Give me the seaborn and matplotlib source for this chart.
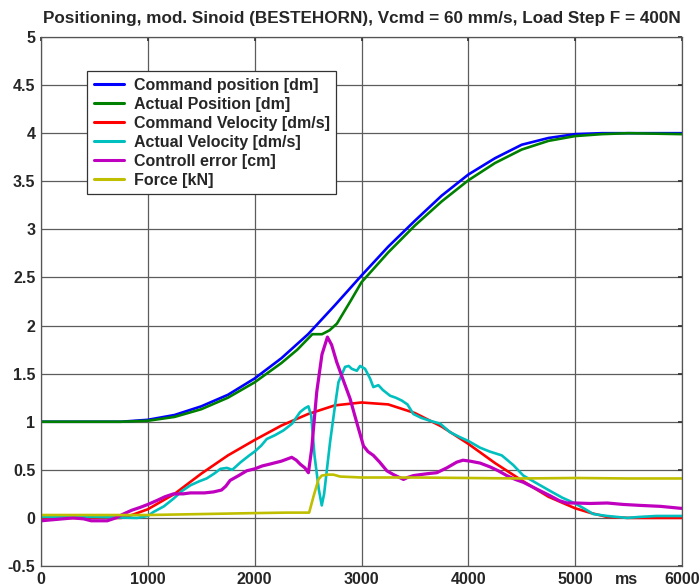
import numpy as np
import pandas as pd
import matplotlib
matplotlib.use("Agg")
import matplotlib.pyplot as plt
import seaborn as sns

# ---------------- data ----------------
series_names = [
    "Command position [dm]",
    "Actual Position [dm]",
    "Command Velocity [dm/s]",
    "Actual Velocity [dm/s]",
    "Controll error [cm]",
    "Force [kN]",
]
series_colors = ["#0000FF", "#008000", "#FF0000", "#00BFBF", "#BF00BF", "#BFBF00"]

cmd_pos_t = [0, 750, 1000, 1250, 1500, 1750, 2000, 2250, 2500, 2750, 3000, 3250, 3500,
             3750, 4000, 4250, 4500, 4750, 5000, 5250, 5500, 6000]
cmd_pos_v = [1.0, 1.0, 1.02, 1.07, 1.16, 1.28, 1.45, 1.66, 1.91, 2.21, 2.52, 2.82, 3.09,
             3.35, 3.57, 3.74, 3.88, 3.95, 3.99, 4.0, 4.0, 4.0]

act_pos_t = [0, 750, 1000, 1250, 1500, 1750, 2000, 2250, 2400, 2540, 2630, 2700, 2770,
             2900, 3000, 3250, 3500, 3750, 4000, 4250, 4500, 4750, 5000, 5250, 5500, 6000]
act_pos_v = [1.0, 1.0, 1.01, 1.05, 1.13, 1.25, 1.41, 1.61, 1.75, 1.91, 1.91, 1.95, 2.02,
             2.26, 2.45, 2.76, 3.04, 3.29, 3.51, 3.69, 3.83, 3.92, 3.97, 3.99, 4.0, 3.99]

cmd_vel_t = [0, 500, 750, 850, 1000, 1250, 1500, 1750, 2000, 2250, 2500, 2750, 3000,
             3250, 3500, 3750, 4000, 4250, 4500, 4750, 5000, 5150, 5300, 5500, 6000]
cmd_vel_v = [0.0, 0.0, 0.0, 0.03, 0.09, 0.25, 0.46, 0.65, 0.81, 0.96, 1.08, 1.17, 1.20,
             1.18, 1.09, 0.95, 0.77, 0.57, 0.39, 0.22, 0.10, 0.05, 0.01, 0.0, 0.0]

act_vel_t = [0, 500, 900, 1000, 1050, 1150, 1240, 1320, 1400, 1480, 1550, 1620, 1680,
             1740, 1790, 1870, 1950, 2000, 2060, 2113, 2190, 2270, 2350, 2425, 2470,
             2503, 2530, 2560, 2600, 2628, 2650, 2706, 2750, 2784, 2846, 2880, 2909,
             2956, 2987, 3033, 3080, 3111, 3158, 3200, 3268, 3320, 3377, 3430, 3486,
             3560, 3642, 3736, 3830, 3920, 4000, 4110, 4200, 4313, 4420, 4515, 4640,
             4766, 4880, 5000, 5080, 5170, 5300, 5485, 5600, 5760, 5980, 6000]
act_vel_v = [0.01, 0.01, 0.0, 0.02, 0.06, 0.12, 0.20, 0.28, 0.34, 0.38, 0.41, 0.46, 0.51,
             0.52, 0.50, 0.58, 0.65, 0.69, 0.75, 0.82, 0.86, 0.91, 0.98, 1.10, 1.14,
             1.16, 1.06, 0.65, 0.30, 0.13, 0.25, 0.79, 1.15, 1.41, 1.57, 1.58, 1.55,
             1.53, 1.58, 1.55, 1.45, 1.36, 1.38, 1.33, 1.27, 1.25, 1.22, 1.18, 1.08,
             1.04, 1.01, 0.98, 0.89, 0.84, 0.80, 0.73, 0.69, 0.65, 0.55, 0.44, 0.36,
             0.28, 0.21, 0.15, 0.10, 0.04, 0.02, 0.0, 0.01, 0.02, 0.02, 0.02]

ctrl_err_t = [0, 100, 200, 300, 400, 470, 550, 620, 700, 770, 850, 930, 1000, 1083, 1160,
              1240, 1330, 1400, 1458, 1530, 1614, 1690, 1730, 1770, 1850, 1926, 2000,
              2070, 2144, 2250, 2347, 2390, 2425, 2470, 2503, 2534, 2581, 2630, 2681,
              2720, 2768, 2830, 2893, 2956, 3018, 3060, 3111, 3170, 3237, 3300, 3393,
              3430, 3486, 3550, 3620, 3705, 3798, 3892, 3950, 4017, 4110, 4204, 4280,
              4360, 4440, 4515, 4640, 4766, 4850, 4922, 5000, 5140, 5300, 5450, 5610,
              5800, 5985, 6000]
ctrl_err_v = [-0.03, -0.02, -0.01, 0.0, -0.01, -0.03, -0.03, -0.03, 0.0, 0.04, 0.08, 0.11,
              0.14, 0.18, 0.22, 0.25, 0.25, 0.26, 0.26, 0.26, 0.27, 0.29, 0.33, 0.39,
              0.44, 0.49, 0.51, 0.54, 0.56, 0.59, 0.63, 0.60, 0.56, 0.52, 0.47, 0.72,
              1.31, 1.70, 1.88, 1.80, 1.62, 1.43, 1.24, 0.99, 0.75, 0.69, 0.65, 0.58,
              0.49, 0.45, 0.40, 0.42, 0.44, 0.45, 0.46, 0.47, 0.52, 0.58, 0.60, 0.59,
              0.57, 0.53, 0.49, 0.44, 0.40, 0.37, 0.30, 0.23, 0.18, 0.155, 0.155, 0.15,
              0.155, 0.14, 0.13, 0.12, 0.10, 0.10]

force_t = [0, 500, 1000, 1500, 2000, 2300, 2510, 2550, 2597, 2628, 2680, 2737, 2800,
           3000, 3500, 4000, 4500, 5000, 5500, 6000]
force_v = [0.03, 0.03, 0.03, 0.04, 0.05, 0.055, 0.055, 0.22, 0.40, 0.44, 0.45, 0.45, 0.43,
           0.42, 0.42, 0.415, 0.41, 0.415, 0.41, 0.41]

x_ticks = [0, 1000, 2000, 3000, 4000, 5000, 6000]
y_ticks = [-0.5, 0, 0.5, 1, 1.5, 2, 2.5, 3, 3.5, 4, 4.5, 5]
title = "Positioning, mod. Sinoid (BESTEHORN), Vcmd = 60 mm/s, Load Step F = 400N"

# ---------------- build long table ----------------
all_t = [cmd_pos_t, act_pos_t, cmd_vel_t, act_vel_t, ctrl_err_t, force_t]
all_v = [cmd_pos_v, act_pos_v, cmd_vel_v, act_vel_v, ctrl_err_v, force_v]
frames = []
for name, t, v in zip(series_names, all_t, all_v):
    frames.append(pd.DataFrame({"t": t, "v": v, "series": name}))
df = pd.concat(frames, ignore_index=True)

# ---------------- plot ----------------
sns.set_theme(style="white")
plt.rcParams["font.family"] = ["Liberation Sans", "DejaVu Sans"]

fig = plt.figure(figsize=(6.99, 5.88), dpi=100)
ax = fig.add_axes([41 / 699, 22 / 588, 641 / 699, 529 / 588])

sns.lineplot(data=df, x="t", y="v", hue="series", hue_order=series_names,
             palette=series_colors, estimator=None, sort=False, linewidth=1.9,
             legend=False, ax=ax)
ax.get_lines()[4].set_linewidth(2.3)

ax.set_xlim(0, 6000)
ax.set_ylim(-0.5, 5)
ax.set_xticks(x_ticks)
ax.set_xticklabels([f"{x:g}" for x in x_ticks])
ax.set_yticks(y_ticks)
ax.set_yticklabels([f"{y:g}" for y in y_ticks])
ax.set_xlabel("")
ax.set_ylabel("")
ax.grid(True, color="#5c5c5c", linewidth=0.9)
ax.set_axisbelow(True)
ax.tick_params(direction="in", length=3, top=True, right=True, labelsize=11.5,
               color="#333333", pad=4)
for lab in ax.get_xticklabels() + ax.get_yticklabels():
    lab.set_fontweight("bold")
for s in ax.spines.values():
    s.set_color("#555555")
    s.set_linewidth(0.9)

ax.annotate("ms", xy=(5480, 0), xycoords=("data", "axes fraction"),
            xytext=(0, -4), textcoords="offset points", ha="center", va="top",
            fontsize=11.5, fontweight="bold")

handles = ax.get_lines()[:6]
leg = ax.legend(handles, series_names, loc="upper left",
                bbox_to_anchor=(0.072, 0.936), frameon=True, fancybox=False,
                edgecolor="#333333", framealpha=1, handlelength=1.9,
                prop={"weight": "bold", "size": 11.5}, borderaxespad=0,
                labelspacing=0.25, borderpad=0.42, handletextpad=0.6)
leg.get_frame().set_linewidth(0.9)
for ln in leg.get_lines():
    ln.set_linewidth(2.2)

fig.text(361.5 / 699, 1 - 19 / 588, title, ha="center", va="center",
         fontsize=12.3, fontweight="bold")

fig.savefig("out.png", dpi=100)
